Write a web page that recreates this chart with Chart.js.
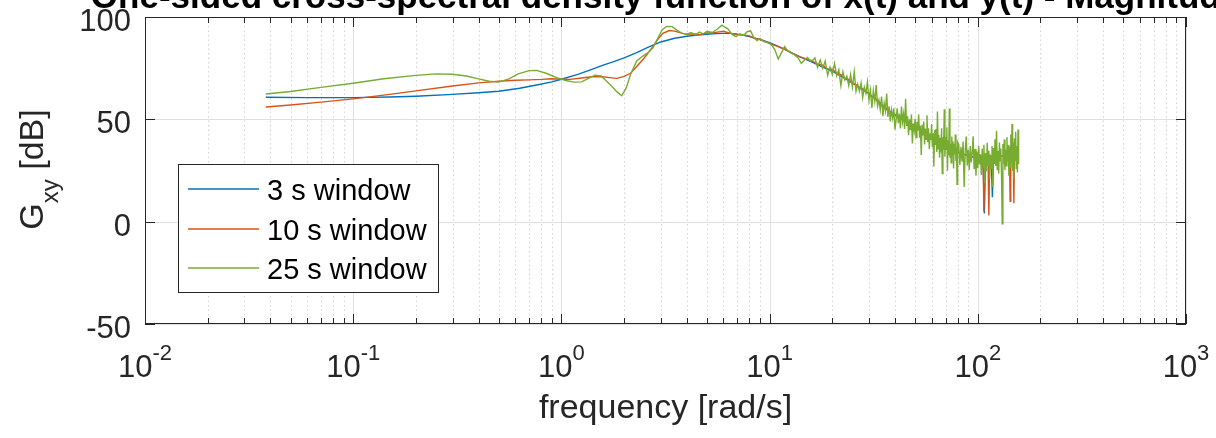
<!DOCTYPE html>
<html><head><meta charset="utf-8">
<script src="https://cdn.jsdelivr.net/npm/chart.js@4"></script>
<style>html,body{margin:0;padding:0;background:#fff;overflow:hidden}canvas{display:block}</style>
</head><body>
<canvas id="c" width="1216" height="438"></canvas>
<script>
// ---------- data ----------
const titleText = 'One-sided cross-spectral density function of x(t) and y(t) - Magnitude';
const xTitle = 'frequency [rad/s]';
const yTitleMain = 'G';
const yTitleSub = 'xy';
const yTitleRest = ' [dB]';
const seriesLabels = ['3 s window', '10 s window', '25 s window'];
const seriesColors = ['#0072BD', '#D95319', '#77AC30'];
const xMajorExps = [-2, -1, 0, 1, 2, 3];
const xMinorMult = [2, 3, 4, 5, 6, 7, 8, 9];
const yTickValues = [100, 50, 0, -50];

const freq3 = [0.038,0.06,0.1,0.15,0.2,0.3,0.4,0.5,0.63,0.76,0.9,1.0,1.2,1.4,1.6,1.8,2.0,2.3,2.6,3.0,3.5,4.0,4.5,5.0,5.5,6.0,6.5,7.0,7.5,8.0,9.0,10,11,12.5,14,16,18,20,22.5,25,27.5,30,33,36,39,42,45,48,51,54,57,60,64,68,72,76,80,85,90,95,100,104,106,107.5,109,113,116,117.5,119,124,130,136,142,148,152,157];
const gxy3 = [60.8,60.6,60.6,60.9,61.3,62.2,63,63.7,65.2,66.8,68.3,69.6,72,74.4,76.6,78.3,80,82.6,85.2,87.8,89.6,90.6,91.2,91.6,91.9,92,92,91.6,91,90.4,89,87.5,85.6,83,80.5,78,75.5,73.5,70.5,67.8,65,62.5,59.2,55.5,53,51,49.5,47.5,46,44.5,43,42,40,38.5,37,35,34,33,32.5,31.5,31,30.5,30.5,4,30.5,31,31,12,31,31.5,32,32.2,32.5,32.8,32.9,33];

const freq10 = [0.038,0.05,0.07,0.1,0.15,0.2,0.3,0.4,0.5,0.6,0.7,0.8,0.9,1.0,1.1,1.25,1.4,1.55,1.7,1.85,2.0,2.15,2.3,2.5,2.75,2.9,3.07,3.3,3.5,3.7,4.0,4.3,4.6,5.0,5.5,6.0,6.5,7.0,7.5,8.0,8.5,9.0,9.5,10,
11,12,13,14,15,16,17,18,19,20,21,22,23,24,25,26,27,28,29,30,31,32,33,34,35,36,37,38,39,40,
42,44,46,48,50,52,54,56,58,60,62,64,66,68,70,72,74,76,78,80,82,84,86,88,90,92,94,96,98,100,102,104,106,
107,108,110,112,113,114,116,118,120,122,124,126,128,130,132,134,136,138,140,142,143,144,146,148,149,150,152,154,156,157];
const gxy10 = [56,57,58.4,60,62.2,63.9,66.3,67.8,68.6,69.1,69.3,69.5,69.8,69.6,69.5,70.2,70.8,70.9,70.4,70,71,72.5,75.8,80,85.5,89,92,93.4,93.1,92.4,91.5,91.8,91.4,92.2,92.5,93,92,91.5,91.2,90.8,89.5,89,88,87,
85.5,84,82,80.5,79.5,78.5,77,76.5,74.5,74.5,72.5,71.8,70,69.5,67.5,67,65.5,65,63.2,63,61,60.8,58.5,58,56,55.8,54,53.8,52.5,52.3,
50.2,50,48,47.8,46,45.6,44,43.8,42.2,42,40.5,40.2,38.8,38.5,37.2,36.8,35.8,35.4,34.4,34.2,33.5,33.3,32.8,32.6,32.2,32,31.7,31.6,31.4,31.2,31,30.8,30.8,
5,30.5,30.4,30.7,3,30.8,30.9,31,31.2,31.3,31.5,31.6,31.8,31.9,32,32.1,32.2,32.3,32.4,32.5,10,32.6,32.7,32.8,9,32.8,32.9,33,33,33];

const freq25 = [0.038,0.05,0.07,0.1,0.14,0.2,0.25,0.3,0.35,0.4,0.45,0.5,0.56,0.62,0.7,0.76,0.85,0.95,1.05,1.15,1.25,1.35,1.45,1.55,1.65,1.75,1.85,1.95,2.05,2.15,2.3,2.45,2.6,2.75,2.9,3.05,3.2,3.4,3.6,3.8,4.0,4.2,4.4,4.6,4.8,5.0,5.3,5.6,5.9,6.1,6.3,6.6,6.9,7.2,7.5,7.8,8.1,8.4,8.7,9.0,9.4,9.8,10.2,10.6,11.0,11.4,11.8,12.2,12.7,13.2,13.7,14.2,14.7,15.2,15.7,16.2,
16.5,17,17.5,18,18.5,19,19.5,20,20.5,21,21.5,22,22.5,23,23.5,24,24.5,25,25.5,26,26.5,27,27.5,28,28.5,29,29.5,30,30.5,31,31.5,32,32.5,33,33.5,34,34.5,35,35.5,36,36.5,37,37.5,38,38.5,39,39.5,40,
40.5,41,41.5,42,42.5,43,43.5,44,44.5,45,45.5,46,46.5,47,47.5,48,48.5,49,49.5,50,50.5,51,51.5,52,52.5,53,53.5,54,54.5,55,55.5,56,56.5,57,57.5,58,58.5,59,59.5,60,60.5,61,61.5,62,62.5,63,63.5,64,64.5,65,65.5,66,66.5,67,67.5,68,68.5,69,69.5,70,70.5,71,71.5,72,72.5,73,73.5,74,74.5,75,75.5,76,76.5,77,77.5,78,78.5,79,79.5,80,
81,82,83,84,85,86,87,88,89,90,91,92,93,94,95,96,97,98,99,100,101,102,103,104,105,106,107,108,109,110,111,112,113,114,115,116,117,118,119,120,121,122,123,124,125,126,127,128,129,130,131,132,133,134,135,136,137,138,139,140,141,142,143,144,145,146,147,148,149,150,151,152,153,154,155,156,157];
const gxy25 = [62.4,63.6,65.6,67.6,69.8,71.5,72.2,72,71.2,69.8,68.6,68.2,69.8,72.2,73.8,73.9,72.4,70.4,69,68.2,68.3,70,71.6,71.2,68.6,66,63.4,61.5,65.5,72,78.5,80.8,82.5,84.8,89.5,93.8,95.4,95.3,93.5,92,91.6,92.4,91.2,92.6,91.8,93,92.4,94,96,95,94.2,91.5,90.4,91.8,91,92.8,93.2,90,88.5,89.5,88,87.6,86.5,84,79.5,82.5,85.5,83.5,82.4,81.5,80,77.4,79,80.2,78.5,79,
80,75.5,79,75,78.5,71.5,75.5,72,77.3,71.3,74.2,66.5,73.3,69.2,71.1,66.5,71.9,65.8,73.2,63.7,67.2,63.7,67.7,60.7,65.7,62.7,68.2,59.3,64.2,55.6,64,58.8,66.7,56.5,59.4,54.7,61.1,51.5,57.9,54.2,62.6,51.2,56.4,49,54.6,50.7,55.4,45,
49.7,55.4,48.1,52.8,45.5,56.2,48.9,52.6,45.3,60.1,46.8,51.5,42.3,50,44.7,52.4,38.2,47.9,44.6,50.3,41.1,48.8,44.5,52.3,41,46.8,32.6,47.3,42.1,48.9,37.7,45.5,40.2,52,38.8,45.6,35.4,43.1,39.9,47.7,36.5,43.2,27,44.8,37.5,45.3,34,53.8,35.6,42.4,31.2,41,33.8,45.6,23.5,41.3,35.1,54.9,31.7,41.5,35.3,46.1,24.9,39.7,32.5,55.3,31.2,38,28.8,41.6,32.4,39.2,26,37.9,32.8,42.6,29.5,36.3,18.2,39,
37.8,27.7,36.5,29.3,39.2,17,34.8,41.6,27.5,35.3,25.2,37,28.9,33.8,41.7,25.6,35.5,22.4,34.3,26.2,37.1,28,32.9,22.8,35.7,26.7,37.6,18.6,33.5,24.5,38.6,27.6,34.7,20.8,32.8,25.9,37,17,36.1,28.2,40.3,27.3,44.4,25.5,34.5,23.6,38.7,29.8,35.8,22.9,-1,38,28.1,40.1,25.2,35.2,27.3,41.3,29.4,37.4,22.5,36.5,26.6,42.6,28.6,47.7,24.7,38.8,20.8,40.8,29.9,43.9,25.9,37,24,45,28];

// ---------- drawing ----------
const AX = '#262626';
const FONT = '"Liberation Sans", Arial, Helvetica, sans-serif';
const pts = (fs, vs) => fs.map((f, i) => ({x: f, y: vs[i]}));
const crisp = v => Math.round(v) + 0.5;

function xTickValues() {
  const out = [];
  xMajorExps.forEach((e, i) => {
    out.push({v: Math.pow(10, e), major: true, e});
    if (i < xMajorExps.length - 1) xMinorMult.forEach(m => out.push({v: m * Math.pow(10, e), major: false}));
  });
  return out;
}

const matlabPlugin = {
  id: 'matlab',
  beforeDatasetsDraw(chart) {
    const {ctx, chartArea: a, scales: {x, y}} = chart;
    ctx.save();
    ctx.lineWidth = 1;
    const ticks = xTickValues();
    ctx.strokeStyle = '#d2d2d2';
    ctx.setLineDash([1.5, 3]);
    ticks.filter(t => !t.major).forEach(t => {
      const px = crisp(x.getPixelForValue(t.v));
      ctx.beginPath(); ctx.moveTo(px, a.top); ctx.lineTo(px, a.bottom); ctx.stroke();
    });
    ctx.setLineDash([]);
    ctx.strokeStyle = '#dfdfdf';
    ticks.filter(t => t.major).forEach(t => {
      const px = crisp(x.getPixelForValue(t.v));
      ctx.beginPath(); ctx.moveTo(px, a.top); ctx.lineTo(px, a.bottom); ctx.stroke();
    });
    yTickValues.forEach(v => {
      const py = crisp(y.getPixelForValue(v));
      ctx.beginPath(); ctx.moveTo(a.left, py); ctx.lineTo(a.right, py); ctx.stroke();
    });
    ctx.restore();
  },
  afterDatasetsDraw(chart) {
    const {ctx, chartArea: a, scales: {x, y}} = chart;
    ctx.save();
    // ticks
    ctx.strokeStyle = AX; ctx.lineWidth = 1;
    xTickValues().forEach(t => {
      const px = crisp(x.getPixelForValue(t.v));
      const len = t.major ? 10 : 6;
      ctx.beginPath();
      ctx.moveTo(px, a.bottom); ctx.lineTo(px, a.bottom - len);
      ctx.moveTo(px, a.top); ctx.lineTo(px, a.top + len);
      ctx.stroke();
    });
    yTickValues.forEach(v => {
      const py = crisp(y.getPixelForValue(v));
      ctx.beginPath();
      ctx.moveTo(a.left, py); ctx.lineTo(a.left + 10, py);
      ctx.moveTo(a.right, py); ctx.lineTo(a.right - 10, py);
      ctx.stroke();
    });
    // box
    ctx.strokeRect(crisp(a.left), crisp(a.top), Math.round(a.right - a.left) - 1, Math.round(a.bottom - a.top) - 1);

    ctx.fillStyle = AX;
    // y tick labels
    ctx.font = `31px ${FONT}`;
    ctx.textAlign = 'right'; ctx.textBaseline = 'alphabetic';
    yTickValues.forEach(v => ctx.fillText(String(v), a.left - 14, y.getPixelForValue(v) + 14));
    // x tick labels (10^n)
    ctx.textAlign = 'left';
    xTickValues().filter(t => t.major).forEach(t => {
      const px = x.getPixelForValue(t.v);
      const sup = String(t.e);
      ctx.font = `31px ${FONT}`; const wb = ctx.measureText('10').width;
      ctx.font = `22px ${FONT}`; const ws = ctx.measureText(sup).width;
      const x0 = px - (wb + ws) / 2;
      ctx.font = `31px ${FONT}`; ctx.fillText('10', x0, 377);
      ctx.font = `22px ${FONT}`; ctx.fillText(sup, x0 + wb, 360);
    });
    // x title
    ctx.font = `34px ${FONT}`;
    ctx.textAlign = 'center';
    ctx.fillText(xTitle, (a.left + a.right) / 2, 418);
    // title (cropped at the top like the reference)
    ctx.font = `bold 35px ${FONT}`;
    ctx.fillStyle = '#000';
    ctx.fillText(titleText, (a.left + a.right) / 2, 8);
    ctx.fillStyle = AX;
    // y title, rotated
    ctx.save();
    const cy = (a.top + a.bottom) / 2 - 1;
    ctx.font = `34px ${FONT}`; const w1 = ctx.measureText(yTitleMain).width; const w3 = ctx.measureText(yTitleRest).width;
    ctx.font = `24px ${FONT}`; const w2 = ctx.measureText(yTitleSub).width;
    const tot = w1 + w2 + w3;
    ctx.translate(43, cy);
    ctx.rotate(-Math.PI / 2);
    ctx.textAlign = 'left';
    let cx = -tot / 2;
    ctx.font = `34px ${FONT}`; ctx.fillText(yTitleMain, cx, 0); cx += w1;
    ctx.font = `24px ${FONT}`; ctx.fillText(yTitleSub, cx, 15); cx += w2;
    ctx.font = `34px ${FONT}`; ctx.fillText(yTitleRest, cx, 0);
    ctx.restore();
    // legend
    const L = {l: 178, t: 164, r: 438, b: 292};
    ctx.fillStyle = '#fff';
    ctx.fillRect(L.l, L.t, L.r - L.l, L.b - L.t);
    ctx.strokeStyle = AX; ctx.lineWidth = 1;
    ctx.strokeRect(crisp(L.l), crisp(L.t), L.r - L.l, L.b - L.t);
    const rows = [189, 229, 268];
    ctx.font = `29px ${FONT}`; ctx.textAlign = 'left';
    seriesLabels.forEach((lab, i) => {
      ctx.strokeStyle = seriesColors[i]; ctx.lineWidth = 1.4;
      ctx.beginPath(); ctx.moveTo(188, rows[i]); ctx.lineTo(259, rows[i]); ctx.stroke();
      ctx.fillStyle = '#000';
      ctx.fillText(lab, 267, rows[i] + 10.5);
    });
    ctx.restore();
  }
};

new Chart(document.getElementById('c'), {
  type: 'line',
  data: {
    datasets: [
      {label: seriesLabels[2], data: pts(freq25, gxy25), borderColor: seriesColors[2]},
      {label: seriesLabels[1], data: pts(freq10, gxy10), borderColor: seriesColors[1]},
      {label: seriesLabels[0], data: pts(freq3, gxy3), borderColor: seriesColors[0]}
    ]
  },
  options: {
    responsive: false,
    animation: false,
    devicePixelRatio: 1,
    layout: {padding: {left: 145, top: 17, right: 30, bottom: 114}},
    scales: {
      x: {type: 'logarithmic', min: 0.01, max: 1000, display: false},
      y: {type: 'linear', min: -50, max: 100, display: false}
    },
    elements: {point: {radius: 0}, line: {borderWidth: 1.4, tension: 0, fill: false}},
    plugins: {legend: {display: false}, tooltip: {enabled: false}, title: {display: false}}
  },
  plugins: [matlabPlugin]
});
</script>
</body></html>
